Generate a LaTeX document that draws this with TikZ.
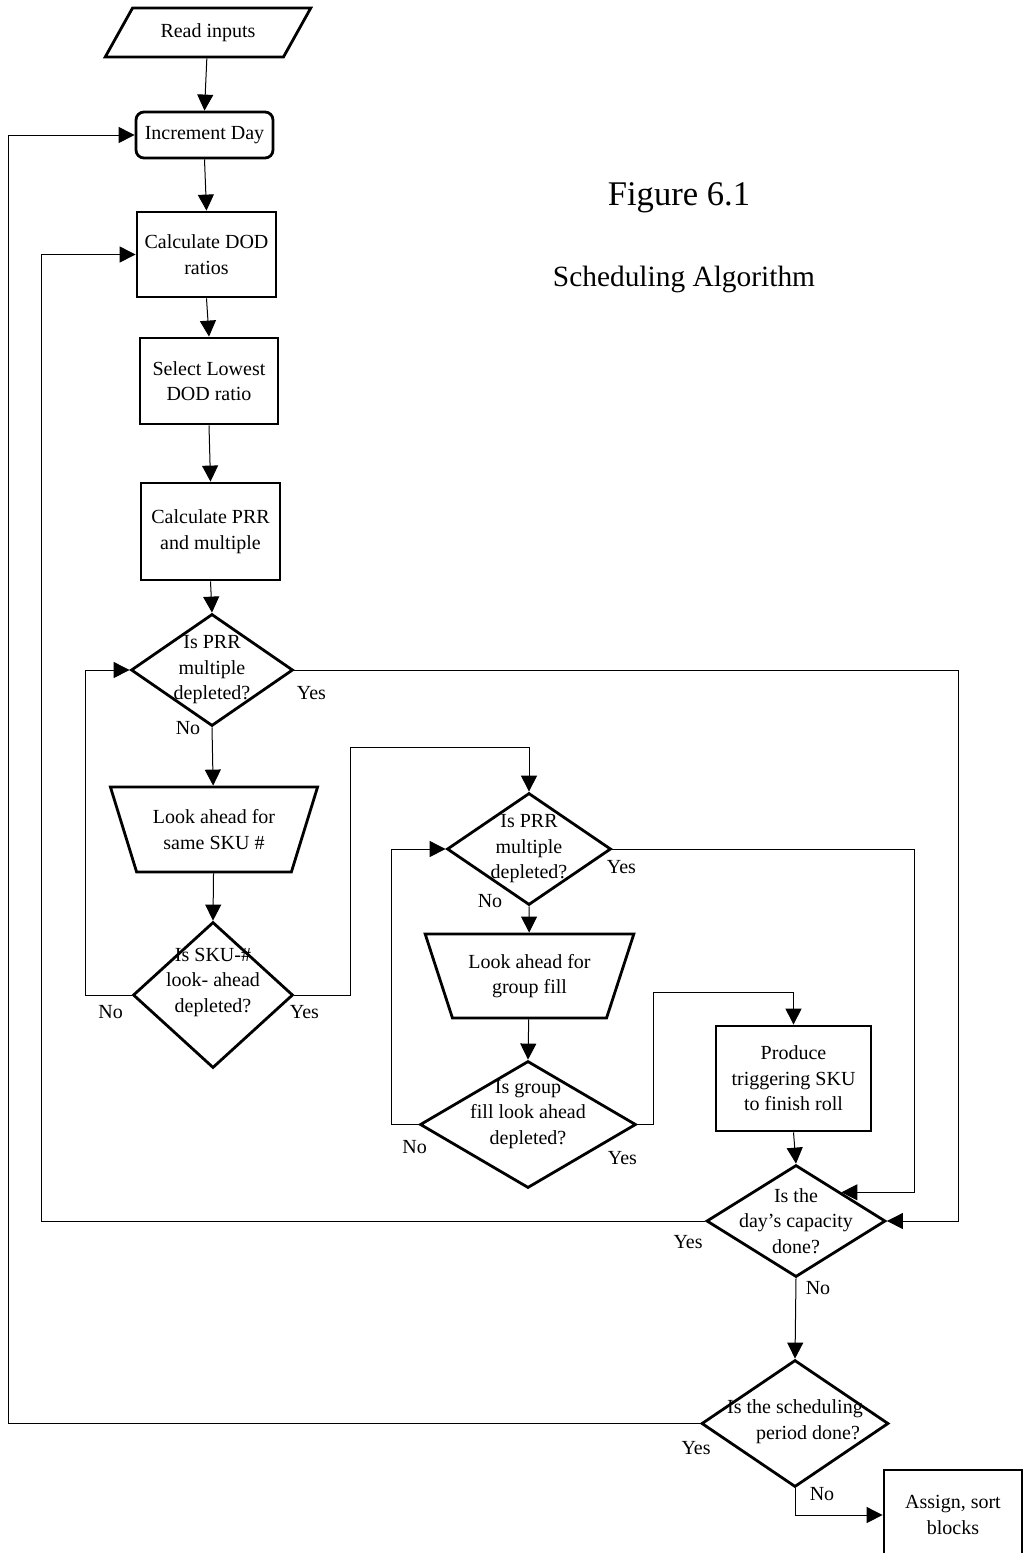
\documentclass[tikz,border=0pt]{standalone}
\usepackage{fontspec}
\setmainfont{Liberation Serif}
\usetikzlibrary{shapes.geometric,arrows.meta}

\tikzset{
  proc/.style={draw,line width=1.4pt,inner sep=1pt,align=center},
  dia/.style={diamond,draw,line width=1.4pt,inner sep=0pt},
  dtext/.style={align=center,inner sep=0pt},
  conn/.style={-{Triangle[length=8pt,width=8pt]},line width=.5pt},
  lbl/.style={inner sep=0pt},
}

\begin{document}
\begin{tikzpicture}[x=.5pt,y=-.5pt,font=\fontsize{10}{12.75}\selectfont]
\useasboundingbox (0,0) rectangle (1024,1553);

% title
\node[font=\fontsize{17.3}{20}\selectfont] (fig) at (679,198) {Figure 6.1};
\node[font=\fontsize{14.7}{18}\selectfont] (ttl) at (684,279) {Scheduling Algorithm};

% main column
\node[proc,trapezium,trapezium left angle=51,trapezium right angle=129,
  trapezium stretches=true,minimum width=103pt,minimum height=24.5pt] (rd) at (208,32.5) {Read inputs};
\node[proc,rounded corners=4pt,minimum width=68.5pt,minimum height=23pt] (inc) at (204.5,135) {Increment Day};
\node[proc,minimum width=69.5pt,minimum height=42.5pt] (dod) at (206.5,254.5) {Calculate DOD\\ratios};
\node[proc,minimum width=69pt,minimum height=43pt] (low) at (209,381) {Select Lowest\\DOD ratio};
\node[proc,minimum width=69.5pt,minimum height=48.5pt] (prr) at (210.5,531.5) {Calculate PRR\\and multiple};
\node[dia,minimum width=81pt,minimum height=56pt,
  label={[dtext]center:{Is PRR\\multiple\\depleted?}}] (d1) at (212,670) {};
\node[proc,trapezium,shape border rotate=180,trapezium left angle=64,trapezium right angle=64,
  trapezium stretches=true,minimum width=104pt,minimum height=42.5pt] (sku) at (214,829.5) {Look ahead for\\same SKU \#};
\node[dia,minimum width=80pt,minimum height=73pt,
  label={[dtext,yshift=6.5pt]center:{Is SKU-\#\\look- ahead\\depleted?}}] (d2) at (213,995) {};

% inner loop
\node[dia,minimum width=82pt,minimum height=56pt,
  label={[dtext]center:{Is PRR\\multiple\\depleted?}}] (d3) at (529,849) {};
\node[proc,trapezium,shape border rotate=180,trapezium left angle=65,trapezium right angle=65,
  trapezium stretches=true,minimum width=104.5pt,minimum height=42pt] (grp) at (529.5,976) {Look ahead for\\group fill};
\node[dia,minimum width=108pt,minimum height=63.5pt,
  label={[dtext,yshift=5pt]center:{Is group\\fill look ahead\\depleted?}}] (d4) at (528,1124.5) {};
\node[proc,minimum width=77.5pt,minimum height=52.5pt] (prod) at (793.5,1078.5) {Produce\\triggering SKU\\to finish roll};
\node[dia,minimum width=89.5pt,minimum height=56pt,
  label={[dtext]center:{Is the\\day's capacity\\done?}}] (d5) at (796,1221) {};
\node[dia,minimum width=93.5pt,minimum height=63.5pt,
  label={[dtext,yshift=1pt]center:{Is the scheduling\\\hspace*{13pt}period done?}}] (d6) at (795,1423.5) {};
\node[proc,minimum width=69pt,minimum height=45pt] (asg) at (953,1515) {Assign, sort\\blocks};

% connectors
\draw[conn] (rd) -- (inc.north);
\draw[conn] (inc.south) -- (dod.north);
\draw[conn] (dod.south) -- (low.north);
\draw[conn] (low.south) -- (prr.north);
\draw[conn] (prr.south) -- (d1.north);
\draw[conn] (d1.south) node[lbl,shift={(-24,1)}] (n1) {No} -- (sku);
\draw[conn] (d1.east) node[lbl,shift={(17,23)}] (y1) {Yes} -- ++(664,0) |- (d5.east);
\draw[conn] (sku) -- (d2.north);
\draw[conn] (d2.west) node[lbl,shift={(-21,17)}] (n2) {No} -- ++(-46,0) |- (d1.west);
\draw[conn] (d2.east) node[lbl,shift={(10,17)}] (y2) {Yes} -- ++(56,0) -- ++(0,-248) -| (d3.north);
\draw[conn] (d3.south) node[lbl,shift={(-39,-5)}] (n3) {No} -- (grp);
\draw[conn] (d3.east) node[lbl,shift={(9,18)}] (y3) {Yes} -- ++(302,0) |- (d5.north east);
\draw[conn] (grp) -- (d4.north);
\draw[conn] (d4.west) node[lbl,shift={(-4,22.5)}] (n4) {No} -- ++(-27,0) |- (d3.west);
\draw[conn] (d4.east) node[lbl,shift={(-15,33.5)}] (y4) {Yes} -- ++(16,0) -- ++(0,-132.5) -| (prod.north);
\draw[conn] (prod.south) -- (d5.north);
\draw[conn] (d5.west) node[lbl,shift={(-17,21)}] (y5) {Yes} -- ++(-664,0) |- (dod.west);
\draw[conn] (d5.south) node[lbl,shift={(22,10)}] (n5) {No} -- (d6.north);
\draw[conn] (d6.west) node[lbl,shift={(-4,24.5)}] (y6) {Yes} -- ++(-692,0) |- (inc.west);
\draw[conn] (d6.south) node[lbl,shift={(27,6)}] (n6) {No} |- (asg.west);
\end{tikzpicture}
\end{document}
